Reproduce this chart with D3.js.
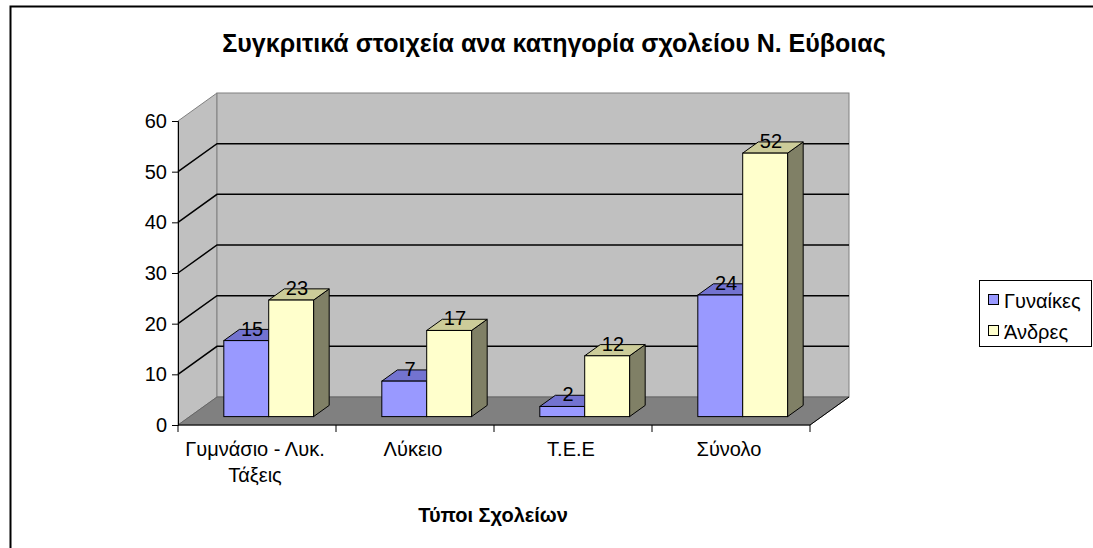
<!DOCTYPE html>
<meta charset="utf-8">
<style>
  body { margin: 0; background: #fff; }
  svg { display: block; font-family: "Liberation Sans", Arial, sans-serif; }
  .tick text { font-size: 20px; fill: #000; }
</style>
<body>
<script src="https://d3js.org/d3.v7.min.js"></script>
<script>
// chart data
var categories = [["Γυμνάσιο - Λυκ.", "Τάξεις"], ["Λύκειο"], ["Τ.Ε.Ε"], ["Σύνολο"]];
var seriesNames = ["Γυναίκες", "Άνδρες"];
var women = [15, 7, 2, 24];
var men = [23, 17, 12, 52];
var yTicks = [0, 10, 20, 30, 40, 50, 60];
var title = "Συγκριτικά στοιχεία ανα κατηγορία σχολείου Ν. Εύβοιας";
var xTitle = "Τύποι Σχολείων";

// colours: front, top, side
var colors = [
  { front: "#9999ff", top: "#7373d0", side: "#5c5ca8" },
  { front: "#ffffcc", top: "#cccc99", side: "#808066" }
];

var W = 1093, H = 548;
var plotLeft = 178, plotRight = 810, plotBase = 425, plotTop = 121;
var depthX = 39, depthY = -28;   // oblique depth of the plot box
var f1 = 0.30, f2 = 0.70;        // bar depth as fraction of box depth

var svg = d3.select("body").append("svg")
  .attr("width", W).attr("height", H);

// outer frame
svg.append("rect")
  .attr("x", 10.5).attr("y", 6.5).attr("width", 1100).attr("height", 600)
  .attr("fill", "none").attr("stroke", "#000").attr("stroke-width", 2);

var x = d3.scaleBand().domain(d3.range(categories.length)).range([plotLeft, plotRight]);
var xs = d3.scaleBand().domain(d3.range(seriesNames.length))
  .range([0, x.bandwidth()]).paddingOuter(0.76).paddingInner(0);
var y = d3.scaleLinear().domain([0, 60]).range([plotBase, plotTop]);

// walls
var g = svg.append("g");
g.append("polygon")
  .attr("points", [[plotLeft, y(0)], [plotLeft, y(60)], [plotLeft + depthX, y(60) + depthY], [plotLeft + depthX, y(0) + depthY]].join(" "))
  .attr("fill", "#c0c0c0").attr("stroke", "#808080");
g.append("rect")
  .attr("x", plotLeft + depthX).attr("y", y(60) + depthY)
  .attr("width", plotRight - plotLeft).attr("height", y(0) - y(60))
  .attr("fill", "#c0c0c0").attr("stroke", "#808080");
g.append("polygon")
  .attr("points", [[plotLeft, y(0)], [plotRight, y(0)], [plotRight + depthX, y(0) + depthY], [plotLeft + depthX, y(0) + depthY]].join(" "))
  .attr("fill", "#808080").attr("stroke", "#666");

// gridlines
yTicks.filter(function (d) { return d > 0 && d < 60; }).forEach(function (d) {
  g.append("path")
    .attr("d", "M" + plotLeft + "," + y(d) + "L" + (plotLeft + depthX) + "," + (y(d) + depthY) +
      "H" + (plotRight + depthX))
    .attr("fill", "none").attr("stroke", "#000").attr("stroke-width", 1.5);
});

// floor edge on the right
g.append("path")
  .attr("d", "M" + plotRight + "," + y(0) + "L" + (plotRight + depthX) + "," + (y(0) + depthY))
  .attr("stroke", "#000").attr("fill", "none");

// axes
svg.append("g")
  .attr("transform", "translate(" + plotLeft + ",0)")
  .call(d3.axisLeft(y).tickValues(yTicks).tickSize(6).tickPadding(5))
  .call(function (a) { a.select(".domain").attr("stroke", "#000"); a.selectAll("line").attr("stroke", "#000"); });

var xAxis = svg.append("g").attr("transform", "translate(0," + plotBase + ")");
xAxis.append("line").attr("x1", plotLeft).attr("x2", plotRight).attr("stroke", "#000");
xAxis.selectAll(".xt").data(d3.range(categories.length + 1)).enter().append("line")
  .attr("x1", function (d) { return d < categories.length ? x(d) : plotRight; })
  .attr("x2", function (d) { return d < categories.length ? x(d) : plotRight; })
  .attr("y1", 0).attr("y2", 7).attr("stroke", "#000");
xAxis.selectAll(".xl").data(categories).enter().append("text")
  .attr("text-anchor", "middle").attr("font-size", 20)
  .attr("x", function (d, i) { return x(i) + x.bandwidth() / 2 - 2; })
  .attr("y", 31)
  .selectAll("tspan").data(function (d) { return d; }).enter().append("tspan")
  .attr("x", function () { return this.parentNode.getAttribute("x"); })
  .attr("dy", function (d, i) { return i ? 26 : 0; })
  .text(function (d) { return d; });

// bars
var ox1 = depthX * f1, oy1 = depthY * f1, ox2 = depthX * f2, oy2 = depthY * f2;
var data = [women, men];
var bars = [];
categories.forEach(function (c, i) {
  data.forEach(function (s, j) { bars.push({ c: i, s: j, v: s[i] }); });
});
var bw = xs.bandwidth();
var bg = svg.append("g").selectAll("g").data(bars).enter().append("g");
bg.each(function (d) {
  var el = d3.select(this);
  var x0 = x(d.c) + xs(d.s), yt = y(d.v), yb = y(0);
  var col = colors[d.s];
  el.append("polygon")
    .attr("points", [[x0 + bw + ox1, yt + oy1], [x0 + bw + ox2, yt + oy2], [x0 + bw + ox2, yb + oy2], [x0 + bw + ox1, yb + oy1]].join(" "))
    .attr("fill", col.side).attr("stroke", "#000");
  el.append("polygon")
    .attr("points", [[x0 + ox1, yt + oy1], [x0 + bw + ox1, yt + oy1], [x0 + bw + ox2, yt + oy2], [x0 + ox2, yt + oy2]].join(" "))
    .attr("fill", col.top).attr("stroke", "#000");
  el.append("rect")
    .attr("x", x0 + ox1).attr("y", yt + oy1).attr("width", bw).attr("height", yb - yt)
    .attr("fill", col.front).attr("stroke", "#000");
  el.append("text")
    .attr("x", x0 + bw / 2 + (ox1 + ox2) / 2 - 2).attr("y", yt + oy1 - 5)
    .attr("text-anchor", "middle").attr("font-size", 20).text(d.v);
});

// titles
svg.append("text").attr("x", 554).attr("y", 52).attr("text-anchor", "middle")
  .attr("font-size", 25).attr("font-weight", "bold").text(title);
svg.append("text").attr("x", 493).attr("y", 522).attr("text-anchor", "middle")
  .attr("font-size", 20).attr("font-weight", "bold").text(xTitle);

// legend
var lg = svg.append("g");
lg.append("rect").attr("x", 979.5).attr("y", 280.5).attr("width", 112).attr("height", 66)
  .attr("fill", "#fff").attr("stroke", "#000");
seriesNames.forEach(function (n, i) {
  lg.append("rect").attr("x", 988.5).attr("y", 294.5 + i * 31).attr("width", 10).attr("height", 10)
    .attr("fill", colors[i].front).attr("stroke", "#000");
  lg.append("text").attr("x", 1004).attr("y", 308 + i * 31).attr("font-size", 20).text(n);
});
</script>
</body>
